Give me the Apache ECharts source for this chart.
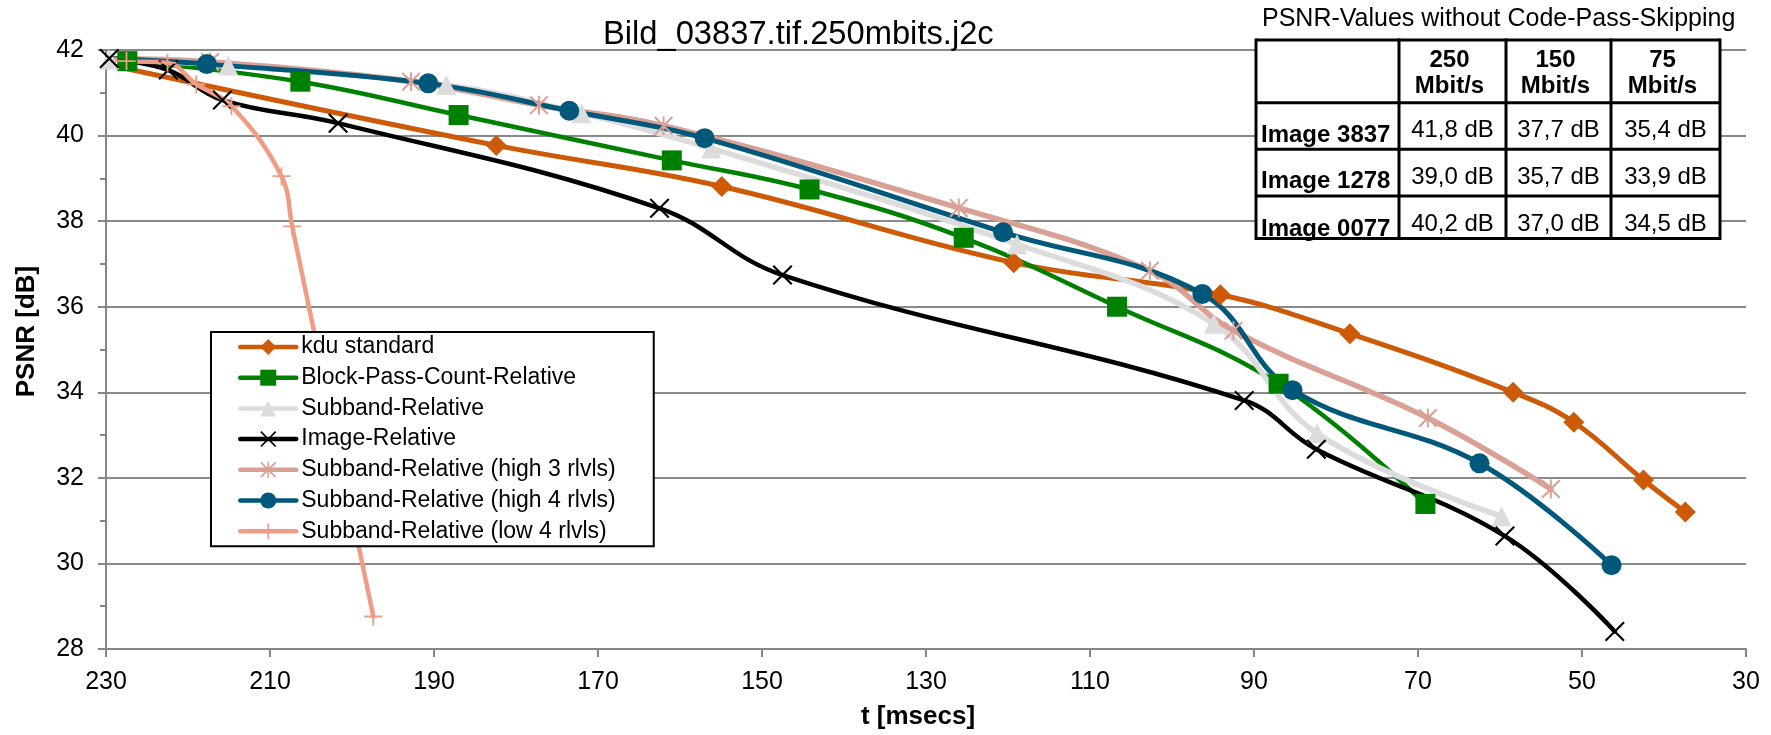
<!DOCTYPE html>
<html>
<head>
<meta charset="utf-8">
<title>Bild_03837.tif.250mbits.j2c</title>
<script src="https://cdn.jsdelivr.net/npm/echarts@6/dist/echarts.min.js"></script>
<style>
    html, body { margin: 0; padding: 0; background: #fff; }
    #chart { width: 1771px; height: 735px; }
</style>
</head>
<body>
<div id="chart"></div>
<script>
// t [msecs] / PSNR [dB]
var kduT = [229.6, 182.4, 154.9, 119.3, 94.1, 78.3, 58.4, 51.0, 42.5, 37.4];
var kduPsnr = [41.65, 39.77, 38.81, 37.03, 36.28, 35.37, 34.0, 33.3, 31.95, 31.2];

var blockT = [227.4, 206.3, 187.0, 161.0, 144.2, 125.4, 106.7, 87.0, 69.1];
var blockPsnr = [41.74, 41.26, 40.48, 39.42, 38.74, 37.61, 36.0, 34.2, 31.39];

var subbandT = [229.6, 215.1, 188.5, 172.0, 156.2, 118.9, 94.9, 82.3, 59.8];
var subbandPsnr = [41.78, 41.64, 41.18, 40.52, 39.7, 37.46, 35.6, 33.04, 31.1];

var imageT = [229.6, 222.4, 215.8, 201.7, 162.5, 147.5, 91.2, 82.4, 59.4, 46.0];
var imagePsnr = [41.8, 41.53, 40.83, 40.29, 38.3, 36.74, 33.81, 32.67, 30.64, 28.41];

var high3T = [229.6, 217.3, 192.8, 177.2, 162.0, 126.0, 102.7, 92.5, 68.8, 53.8];
var high3Psnr = [41.8, 41.72, 41.26, 40.71, 40.23, 38.31, 36.84, 35.44, 33.4, 31.74];

var high4T = [229.6, 217.7, 190.7, 173.5, 157.0, 120.6, 96.3, 85.3, 62.5, 46.4];
var high4Psnr = [41.8, 41.67, 41.22, 40.58, 39.94, 37.74, 36.3, 34.05, 32.34, 29.96];

var low4T = [229.6, 227.5, 222.5, 219.0, 214.7, 208.6, 207.3, 197.4];
var low4Psnr = [41.8, 41.74, 41.7, 41.2, 40.69, 39.05, 37.88, 28.76];

var seriesNames = ['kdu standard', 'Block-Pass-Count-Relative', 'Subband-Relative', 'Image-Relative',
    'Subband-Relative (high 3 rlvls)', 'Subband-Relative (high 4 rlvls)', 'Subband-Relative (low 4 rlvls)'];

// inset table
var tableTitle = 'PSNR-Values without Code-Pass-Skipping';
var rateHeaders = ['250\nMbit/s', '150\nMbit/s', '75\nMbit/s'];
var imageNames = ['Image 3837', 'Image 1278', 'Image 0077'];
var psnrTable = [
    ['41,8 dB', '37,7 dB', '35,4 dB'],
    ['39,0 dB', '35,7 dB', '33,9 dB'],
    ['40,2 dB', '37,0 dB', '34,5 dB']
];

var FONT = "'Liberation Sans', Arial, sans-serif";

// marker shapes like the office ones
var X_PATH = 'path://M0.75,0L5,4.25L9.25,0L10,0.75L5.75,5L10,9.25L9.25,10L5,5.75L0.75,10L0,9.25L4.25,5L0,0.75Z';
var STAR_PATH = X_PATH + 'M4.5,0L5.5,0L5.5,10L4.5,10Z';
var PLUS_PATH = 'path://M4.5,0L5.5,0L5.5,4.5L10,4.5L10,5.5L5.5,5.5L5.5,10L4.5,10L4.5,5.5L0,5.5L0,4.5L4.5,4.5Z';

function zip(ts, ps, hideFirst) {
    var out = [];
    for (var i = 0; i < ts.length; i++) {
        if (i == 0 && hideFirst) {
            // start point sits under the others, no marker seen there
            out.push({value: [ts[i], ps[i]], symbol: 'none'});
        } else {
            out.push([ts[i], ps[i]]);
        }
    }
    return out;
}

function lineSeries(name, ts, ps, color, symbol, size, width, hideFirst) {
    return {
        name: name,
        type: 'line',
        data: zip(ts, ps, hideFirst),
        smooth: 0.4,
        symbol: symbol,
        symbolSize: size,
        showAllSymbol: true,
        lineStyle: {color: color, width: width, cap: 'round', join: 'round'},
        itemStyle: {color: color},
        emphasis: {disabled: true},
        animation: false
    };
}

/**
 * table top right, drawn with graphic elements
 */
function buildTable() {
    var cols = [1256, 1399, 1506, 1611, 1720];
    var rows = [40, 102.7, 149.3, 196, 238.5];
    var valueMid = [130.5, 177, 224];
    var headMid = [135.5, 181.7, 229];
    var els = [];
    var Z = 100;

    els.push({
        type: 'rect', z: Z,
        shape: {x: cols[0], y: rows[0], width: cols[4] - cols[0], height: rows[4] - rows[0]},
        style: {fill: '#fff'}
    });
    els.push({
        type: 'text', z: Z + 1, x: 1262, y: 19,
        style: {text: tableTitle, font: '25px ' + FONT, fill: '#000', align: 'left', verticalAlign: 'middle'}
    });
    for (var c = 0; c < rateHeaders.length; c++) {
        els.push({
            type: 'text', z: Z + 1, x: (cols[c + 1] + cols[c + 2]) / 2 - 3, y: 73,
            style: {text: rateHeaders[c], font: 'bold 24px ' + FONT, lineHeight: 26, fill: '#000',
                align: 'center', verticalAlign: 'middle'}
        });
    }
    for (var r = 0; r < imageNames.length; r++) {
        els.push({
            type: 'text', z: Z + 1, x: 1261, y: headMid[r],
            style: {text: imageNames[r], font: 'bold 24px ' + FONT, fill: '#000', align: 'left', verticalAlign: 'middle'}
        });
        for (var k = 0; k < 3; k++) {
            els.push({
                type: 'text', z: Z + 1, x: (cols[k + 1] + cols[k + 2]) / 2, y: valueMid[r],
                style: {text: psnrTable[r][k], font: '24px ' + FONT, fill: '#000', align: 'center', verticalAlign: 'middle'}
            });
        }
    }
    for (var i = 0; i < cols.length; i++) {
        els.push({type: 'line', z: Z + 2, shape: {x1: cols[i], y1: rows[0] - 1.5, x2: cols[i], y2: rows[4] + 1.5},
            style: {stroke: '#000', lineWidth: 3}});
    }
    for (var j = 0; j < rows.length; j++) {
        els.push({type: 'line', z: Z + 2, shape: {x1: cols[0], y1: rows[j], x2: cols[4], y2: rows[j]},
            style: {stroke: '#000', lineWidth: 3}});
    }
    return {type: 'group', z: Z, silent: true, children: els};
}

var chart = echarts.init(document.getElementById('chart'), null, {renderer: 'canvas'});

chart.setOption({
    animation: false,
    backgroundColor: '#fff',
    title: {
        text: 'Bild_03837.tif.250mbits.j2c',
        left: 603,
        top: 18,
        padding: 0,
        textStyle: {fontFamily: FONT, fontSize: 32.7, fontWeight: 'normal', color: '#000'}
    },
    grid: {left: 106, right: 25, top: 50, bottom: 83, containLabel: false},
    legend: {
        orient: 'vertical',
        left: 211,
        top: 332,
        backgroundColor: '#fff',
        borderColor: '#000',
        borderWidth: 2,
        borderRadius: 0,
        padding: [3, 38, 3, 27],
        itemGap: 6.7,
        itemWidth: 56,
        itemHeight: 20,
        selectedMode: false,
        lineStyle: {width: 4.5, cap: 'round'},
        textStyle: {fontFamily: FONT, fontSize: 23, color: '#000', lineHeight: 24},
        data: seriesNames
    },
    xAxis: {
        type: 'value',
        min: 30,
        max: 230,
        interval: 20,
        inverse: true,
        name: 't [msecs]',
        nameLocation: 'middle',
        nameGap: 55,
        nameTextStyle: {fontFamily: FONT, fontSize: 26, fontWeight: 'bold', color: '#000', padding: [0, 16, 0, 0]},
        axisLine: {lineStyle: {color: '#868686', width: 2}},
        axisTick: {length: 8, lineStyle: {color: '#868686', width: 2}},
        axisLabel: {margin: 21, fontFamily: FONT, fontSize: 25, color: '#000'},
        splitLine: {show: false}
    },
    yAxis: {
        type: 'value',
        min: 28,
        max: 42,
        interval: 2,
        name: 'PSNR [dB]',
        nameLocation: 'middle',
        nameRotate: 90,
        nameGap: 66,
        nameTextStyle: {fontFamily: FONT, fontSize: 26, fontWeight: 'bold', color: '#000', padding: [0, 0, 0, 36]},
        axisLine: {show: true, lineStyle: {color: '#868686', width: 2}},
        axisTick: {show: true, length: 8, lineStyle: {color: '#868686', width: 2}},
        minorTick: {show: true, splitNumber: 2, length: 6, lineStyle: {color: '#868686', width: 2}},
        axisLabel: {margin: 22, fontFamily: FONT, fontSize: 25, color: '#000'},
        splitLine: {show: true, lineStyle: {color: '#8a8a8a', width: 2}}
    },
    series: [
        lineSeries(seriesNames[0], kduT, kduPsnr, '#CC5A06', 'diamond', 21, 5, true),
        lineSeries(seriesNames[1], blockT, blockPsnr, '#008000', 'rect', 20, 4.5, false),
        lineSeries(seriesNames[2], subbandT, subbandPsnr, '#DCDCDC', 'triangle', 20, 5.5, false),
        lineSeries(seriesNames[3], imageT, imagePsnr, '#000000', X_PATH, 20, 4.5, false),
        lineSeries(seriesNames[4], high3T, high3Psnr, '#D9A095', STAR_PATH, 19, 5.5, true),
        lineSeries(seriesNames[5], high4T, high4Psnr, '#02587A', 'circle', 20, 5, true),
        lineSeries(seriesNames[6], low4T, low4Psnr, '#EE9C85', PLUS_PATH, 18, 4.5, true)
    ],
    graphic: [buildTable()]
});

window.onresize = function () {
    chart.resize();
};
</script>
</body>
</html>
